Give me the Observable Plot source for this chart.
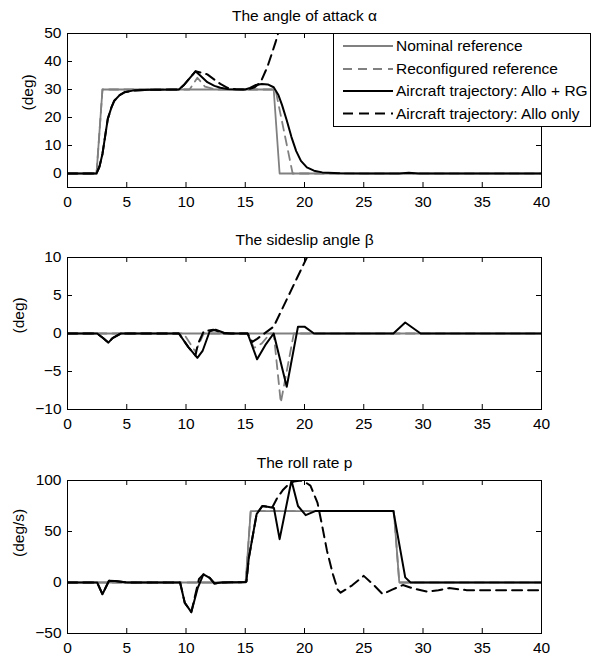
<!DOCTYPE html>
<html><head><meta charset="utf-8">
<script src="https://cdn.jsdelivr.net/npm/d3@7"></script>
<script src="https://cdn.jsdelivr.net/npm/@observablehq/plot@0.6"></script>
<style>
body{margin:0;background:#fff;}
#chart svg{display:block;}
</style></head><body><div id="chart"></div>
<script>
// ---- tick labels ----
const xTicks = [0, 5, 10, 15, 20, 25, 30, 35, 40];
const alphaTicks = [0, 10, 20, 30, 40, 50];
const betaTicks = [-10, -5, 0, 5, 10];
const pTicks = [-50, 0, 50, 100];

// ---- series names ----
const seriesNames = ["Nominal reference", "Reconfigured reference", "Aircraft trajectory: Allo + RG", "Aircraft trajectory: Allo only"];

// ---- angle of attack alpha (deg), [t, value] ----
const alphaNominal = [[0,0],[2.45,0],[2.95,30],[17.4,30],[17.9,0],[40,0]];
const alphaReconfig = [[0,0],[2.45,0],[2.95,30],[10.3,30],[10.96,34.2],[11.6,31],[12.5,30],[17.55,30],[19.0,0],[40,0]];
const alphaRG = [[0,0],[2.45,0],[2.7,2.5],[2.95,7],[3.2,14],[3.4,19.5],[3.7,23.5],[3.95,26],[4.4,28],[4.8,29],[5.5,29.6],[7,29.9],[9.4,30],[9.8,31.5],[10.3,34],[10.8,36.5],[11.2,35],[11.8,32.6],[12.4,31.3],[12.9,30.6],[13.6,30.1],[15.0,30],[15.4,30.6],[15.9,31.6],[16.4,32],[16.9,31.8],[17.4,30.8],[17.8,28],[18.1,24.5],[18.5,19],[18.9,13],[19.3,8],[19.7,4.5],[20.2,2.2],[20.8,1],[21.5,0.4],[23,0.1],[25,0],[28,0],[28.8,0.3],[29.6,0],[40,0]];
const alphaAllo = [[0,0],[2.45,0],[2.7,2.5],[2.95,7],[3.2,14],[3.4,19.5],[3.7,23.5],[3.95,26],[4.4,28],[4.8,29],[5.5,29.6],[7,29.9],[9.4,30],[9.8,31.5],[10.3,34],[10.8,36.5],[11.3,36],[11.8,35.4],[12.4,33.5],[12.9,32],[13.5,30.6],[14.2,30.1],[15.2,30],[15.8,30.8],[16.3,32.6],[16.86,38],[17.14,41.5],[17.56,46.9],[17.9,52]];

// ---- sideslip angle beta (deg) ----
const betaNominal = [[0,0],[40,0]];
const betaReconfig = [[0,0],[9.8,0],[10.8,-2.4],[11.5,0],[15.2,0],[15.73,-1.9],[16.4,-1.3],[17.1,0],[17.4,0],[18.0,-9.1],[19.1,0],[40,0]];
const betaRG = [[0,0],[2.5,0],[3.0,-0.6],[3.45,-1.2],[3.8,-0.6],[4.5,0],[9.4,0],[10.2,-1.8],[10.96,-3.2],[11.4,-2.3],[12.0,0.3],[12.5,0.5],[13.2,0.1],[13.8,0],[15.2,0],[16.0,-3.4],[16.7,-1.5],[17.4,0],[18.5,-7.0],[19.45,0.9],[20.0,0.9],[20.8,0],[27.5,0],[28.5,1.45],[29.8,0],[40,0]];
const betaAllo = [[0,0],[2.5,0],[3.0,-0.6],[3.45,-1.2],[3.8,-0.6],[4.5,0],[9.4,0],[10.2,-1.8],[10.8,-2.9],[11.0,-1.4],[11.5,0.3],[12.3,0.5],[13.2,0],[15.2,0],[15.6,-1.1],[16.0,-0.7],[17.4,0.9],[20.2,10],[21,12.6]];

// ---- roll rate p (deg/s) ----
const pNominal = [[0,0],[15.03,0],[15.46,70],[27.54,70],[28.0,0],[40,0]];
const pReconfig = [[0,0],[15.03,0],[15.46,70],[27.54,70],[28.0,0],[40,0]];
const pRG = [[0,0],[2.5,0],[2.95,-11.5],[3.5,1.7],[4.0,1.5],[5,0],[9.5,0],[9.9,-20],[10.45,-29],[11.0,-5],[11.47,8],[12.0,4.5],[12.4,-1],[13,0],[15.0,0.5],[15.1,1],[15.3,24],[15.96,67],[16.44,75],[17.0,74],[17.42,73],[17.9,42.5],[18.9,100],[19.45,75],[20.1,66],[20.9,70],[27.5,70],[28.5,5],[28.95,0],[40,0]];
const pAllo = [[0,0],[2.5,0],[2.95,-11.5],[3.5,1.7],[4.0,1.5],[5,0],[9.5,0],[9.9,-20],[10.45,-29],[11.1,3.6],[11.47,8],[12.0,4.5],[12.4,-1],[13,0],[15.0,0.5],[15.1,1],[15.3,24],[15.96,67],[16.44,75],[17.0,74],[17.3,74],[17.7,83],[18.2,91],[18.55,95],[19.1,99],[19.7,100],[20.1,98],[20.5,95],[21.1,78],[21.5,55],[21.9,31],[22.4,8],[22.8,-7],[23.05,-10],[24.0,-3],[25.0,6.5],[25.8,-2],[26.6,-11.4],[27.4,-7],[28.3,-2.5],[29.2,-6],[30.35,-9],[31.3,-7.5],[32.2,-5.5],[33.7,-7.5],[40,-7.5]];

// ---- styles ----
const GRAY = "#808080";
const styles = [
  {stroke: GRAY, width: 1.8, dash: null},
  {stroke: GRAY, width: 1.8, dash: "9,6"},
  {stroke: "black", width: 2, dash: null},
  {stroke: "black", width: 2, dash: "10,6"}
];
const FONT = "'Liberation Sans', Arial, Helvetica, sans-serif";

function panel({title, ylabel, ylabelDx, yDomain, yTicks, data, height, marginTop, marginBottom}) {
  const W = 600, ML = 67, MR = 59;
  const ph = height - marginTop - marginBottom;
  const pw = W - ML - MR;
  const marks = [];
  data.forEach((d, i) => {
    const s = styles[i];
    marks.push(Plot.line(d, {x: v => v[0], y: v => v[1], stroke: s.stroke, strokeWidth: s.width,
      strokeDasharray: s.dash, clip: true, strokeLinejoin: "round"}));
  });
  marks.push(
    Plot.frame({stroke: "black", strokeWidth: 1}),
    Plot.tickX(xTicks, {x: d => d, insetTop: ph - 5, stroke: "black", strokeWidth: 1}),
    Plot.tickX(xTicks, {x: d => d, insetBottom: ph - 5, stroke: "black", strokeWidth: 1}),
    Plot.tickY(yTicks, {y: d => d, insetLeft: pw - 5, stroke: "black", strokeWidth: 1}),
    Plot.tickY(yTicks, {y: d => d, insetRight: pw - 5, stroke: "black", strokeWidth: 1}),
    Plot.axisX({ticks: xTicks, tickSize: 0, tickPadding: 8, label: null, tickFormat: d => String(d)}),
    Plot.axisY({ticks: yTicks, tickSize: 0, tickPadding: 6, label: null, tickFormat: d => d < 0 ? "\u2212" + Math.abs(d) : String(d)}),
    Plot.text([title], {frameAnchor: "top", dy: -12.5, lineAnchor: "bottom", text: d => d, fill: "black"}),
    Plot.text([ylabel], {frameAnchor: "left", rotate: -90, dx: ylabelDx, lineAnchor: "middle", text: d => d, fill: "black"})
  );
  return Plot.plot({
    width: W, height, marginLeft: ML, marginRight: MR, marginTop, marginBottom,
    x: {domain: [0, 40]},
    y: {domain: yDomain},
    style: {fontFamily: FONT, fontSize: "15.5px", color: "black", background: "white", overflow: "visible"},
    marks
  });
}

const chart = document.getElementById("chart");

const svg1 = panel({title: "The angle of attack \u03b1", ylabel: "(deg)", ylabelDx: -39,
  yDomain: [-5, 50], yTicks: alphaTicks, data: [alphaNominal, alphaReconfig, alphaRG, alphaAllo],
  height: 223, marginTop: 33, marginBottom: 36});
const svg2 = panel({title: "The sideslip angle \u03b2", ylabel: "(deg)", ylabelDx: -48,
  yDomain: [-10, 10], yTicks: betaTicks, data: [betaNominal, betaReconfig, betaRG, betaAllo],
  height: 223, marginTop: 34, marginBottom: 37});
const svg3 = panel({title: "The roll rate p", ylabel: "(deg/s)", ylabelDx: -48,
  yDomain: [-50, 100], yTicks: pTicks, data: [pNominal, pReconfig, pRG, pAllo],
  height: 210, marginTop: 34, marginBottom: 23});

chart.append(svg1, svg2, svg3);

// ---- legend inside the first panel ----
const lg = d3.select(svg1).append("g").attr("font-family", FONT).attr("font-size", "15.5px")
  .attr("text-anchor", "start");
lg.append("rect").attr("x", 333.5).attr("y", 33.5).attr("width", 257).attr("height", 93)
  .attr("fill", "white").attr("stroke", "black").attr("stroke-width", 1);
const rowY = [46, 69, 91, 113.5];
seriesNames.forEach((name, i) => {
  const s = styles[i];
  lg.append("line").attr("x1", 343).attr("x2", 393).attr("y1", rowY[i]).attr("y2", rowY[i])
    .attr("stroke", s.stroke).attr("stroke-width", s.width).attr("stroke-dasharray", s.dash);
  lg.append("text").attr("x", 396).attr("y", rowY[i]).attr("dy", "0.35em").attr("fill", "black")
    .attr("text-anchor", "start").text(name);
});
</script>
</body></html>
